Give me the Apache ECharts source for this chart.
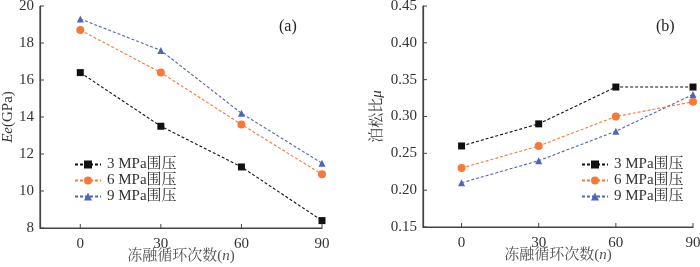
<!DOCTYPE html>
<html><head><meta charset="utf-8">
<script src="https://cdn.jsdelivr.net/npm/echarts@6/dist/echarts.min.js"></script>
<style>html,body{margin:0;padding:0;background:#fff}#c{width:700px;height:267px}</style>
</head><body><div id="c"></div>
<script>
const cycles = [0, 30, 60, 90];
const seriesNames = ['3 MPa围压', '6 MPa围压', '9 MPa围压'];
const eeValues3 = [16.4, 13.5, 11.3, 8.4];
const eeValues6 = [18.7, 16.4, 13.6, 10.9];
const eeValues9 = [19.3, 17.6, 14.2, 11.5];
const muValues3 = [0.26, 0.29, 0.34, 0.34];
const muValues6 = [0.23, 0.26, 0.30, 0.32];
const muValues9 = [0.21, 0.24, 0.28, 0.33];
const eeTicks = [8, 10, 12, 14, 16, 18, 20];
const muTicks = [0.15, 0.20, 0.25, 0.30, 0.35, 0.40, 0.45];
const xRange = [-15, 90];
const eeRange = [8, 20];
const muRange = [0.15, 0.45];

const serif = "'Liberation Serif','Times New Roman','Noto Serif CJK SC','Noto Sans CJK SC',serif";
const colors = ['#111111', '#f47a3a', '#4f66b2'];
const symbols = ['rect', 'circle', 'triangle'];
const symSizes = [7, 8, 7];
const axisColor = '#444';
const textColor = '#333';

function pairs(vals){ return cycles.map((c,i)=>[c, vals[i]]); }

function mkSeries(name, vals, k, idx){
  return {
    type: 'line', name: name, xAxisIndex: idx, yAxisIndex: idx,
    data: pairs(vals), symbol: symbols[k], symbolSize: symSizes[k],
    lineStyle: {type: [3, 2], width: 1.1, color: colors[k]},
    itemStyle: {color: colors[k]}, z: 10 - k
  };
}

// axis frame (left + bottom lines) drawn through the axes' own scales
function frameSeries(idx, yRange){
  return {
    type: 'line', name: 'frame' + idx, xAxisIndex: idx, yAxisIndex: idx,
    data: [[xRange[0], yRange[1]], [xRange[0], yRange[0]], [xRange[1], yRange[0]]],
    symbol: 'none', silent: true, clip: false, z: 20,
    lineStyle: {color: axisColor, width: 1.2, type: 'solid'}, tooltip: {show: false}
  };
}
// inward tick marks
function tickSeries(idx, yTicks){
  const data = yTicks.map(v => [xRange[0], v, 0]).concat(cycles.map(c => [c, yTicks[0], 1]));
  return {
    type: 'custom', name: 'ticks' + idx, xAxisIndex: idx, yAxisIndex: idx,
    data: data, silent: true, clip: false, z: 20,
    renderItem: function(params, api){
      const p = api.coord([api.value(0), api.value(1)]);
      const horiz = api.value(2) === 0;
      const q = horiz ? [p[0] + 4, p[1]] : [p[0], p[1] - 4];
      return {type: 'polyline', shape: {points: [p, q]},
        style: {stroke: axisColor, lineWidth: 1, fill: null}};
    }
  };
}

function xAxisCfg(idx){
  return {
    gridIndex: idx, type: 'value', min: xRange[0], max: xRange[1],
    axisLine: {show: true, onZero: false, lineStyle: {color: axisColor, width: 1.2}},
    axisTick: {show: false},
    axisLabel: {customValues: cycles, color: textColor, fontFamily: serif, fontSize: 15, margin: 9},
    splitLine: {show: false},
    name: '{c|冻融循环次数(}{i|n}{c|)}', nameLocation: 'middle', nameGap: 21,
    nameMoveOverlap: false,
    nameTextStyle: {rich: {
      c: {fontFamily: serif, fontSize: 15, color: '#555'},
      i: {fontFamily: serif, fontSize: 15, color: '#555', fontStyle: 'italic'}
    }}
  };
}

function yAxisCfg(idx, range, interval, fmt, name, gap){
  return {
    gridIndex: idx, type: 'value', min: range[0], max: range[1], interval: interval,
    axisLine: {show: true, onZero: false, lineStyle: {color: axisColor, width: 1.2}},
    axisTick: {show: false},
    axisLabel: {color: textColor, fontFamily: serif, fontSize: 15, margin: 6, formatter: fmt},
    splitLine: {show: false},
    name: name, nameLocation: 'middle', nameGap: gap, nameRotate: 90,
    nameMoveOverlap: false,
    nameTextStyle: {rich: {
      c: {fontFamily: serif, fontSize: 15, color: textColor},
      i: {fontFamily: serif, fontSize: 15, color: textColor, fontStyle: 'italic'}
    }}
  };
}

const legendBase = {orient: 'vertical', itemWidth: 26, itemHeight: 10, itemGap: 1,
  data: seriesNames, padding: 0,
  textStyle: {fontFamily: serif, fontSize: 15, color: textColor, padding: [0,0,0,1]}};

const option = {
  animation: false,
  grid: [
    {show: false, left: 40, right: 378, top: 6, bottom: 39, outerBoundsMode: 'none', containLabel: false},
    {show: false, left: 423, right: 7, top: 6, bottom: 40, outerBoundsMode: 'none', containLabel: false}
  ],
  xAxis: [xAxisCfg(0), xAxisCfg(1)],
  yAxis: [
    yAxisCfg(0, eeRange, 2, v => String(v), '{i|Ee}{c|(GPa)}', 24),
    yAxisCfg(1, muRange, 0.05, v => v.toFixed(2), '{c|泊松比}{i|μ}', 38)
  ],
  legend: [
    Object.assign({}, legendBase, {left: 74, top: 157}),
    Object.assign({}, legendBase, {left: 581, top: 157})
  ],
  graphic: [
    {type: 'text', left: 279, top: 19, style: {text: '(a)', font: "16px " + serif, fill: '#222'}},
    {type: 'text', left: 656, top: 19, style: {text: '(b)', font: "16px " + serif, fill: '#222'}}
  ],
  series: [
    frameSeries(0, eeRange),
    frameSeries(1, muRange),
    tickSeries(0, eeTicks),
    tickSeries(1, muTicks),
    mkSeries(seriesNames[0], eeValues3, 0, 0),
    mkSeries(seriesNames[1], eeValues6, 1, 0),
    mkSeries(seriesNames[2], eeValues9, 2, 0),
    mkSeries(seriesNames[0], muValues3, 0, 1),
    mkSeries(seriesNames[1], muValues6, 1, 1),
    mkSeries(seriesNames[2], muValues9, 2, 1)
  ]
};
const chart = echarts.init(document.getElementById('c'));
chart.setOption(option);
</script></body></html>
